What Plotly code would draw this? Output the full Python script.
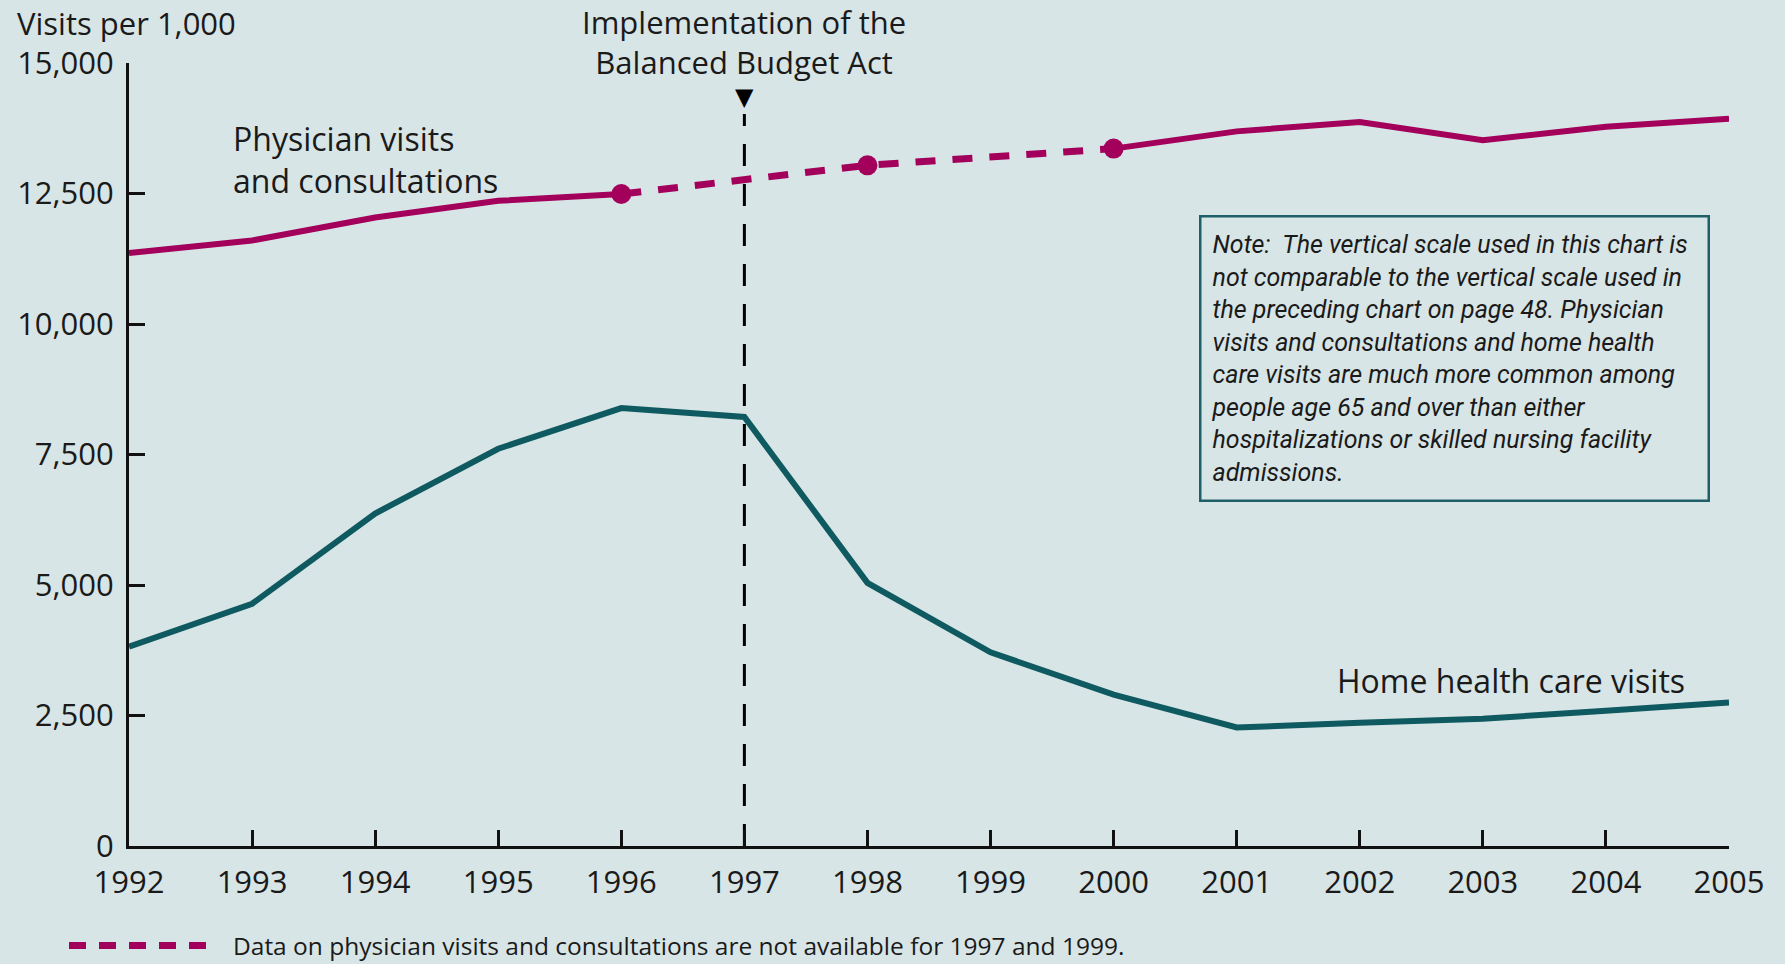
import plotly.graph_objects as go

# ---- data ----
years = [1992, 1993, 1994, 1995, 1996, 1997, 1998, 1999, 2000, 2001, 2002, 2003, 2004, 2005]
home_health = [3820, 4640, 6370, 7610, 8390, 8220, 5040, 3710, 2900, 2270, 2360, 2440, 2590, 2750]

phys_years_early = [1992, 1993, 1994, 1995, 1996]
phys_early = [11360, 11600, 12040, 12360, 12490]
phys_years_gap = [1996, 1998, 2000]
phys_gap = [12490, 13040, 13360]
phys_years_late = [2000, 2001, 2002, 2003, 2004, 2005]
phys_late = [13360, 13690, 13870, 13520, 13780, 13930]

y_ticks = [0, 2500, 5000, 7500, 10000, 12500, 15000]
y_tick_labels = ["0", "2,500", "5,000", "7,500", "10,000", "12,500", "15,000"]
bba_year = 1997

BG = "#d8e5e6"
MAG = "#a3005c"
TEAL = "#0e5a60"
FONT = "Open Sans"
TXT = "#1a1a1a"

fig = go.Figure()
fig.add_trace(go.Scatter(x=years, y=home_health, mode="lines",
                         line=dict(color=TEAL, width=6), showlegend=False, cliponaxis=False))
fig.add_trace(go.Scatter(x=phys_years_early, y=phys_early, mode="lines",
                         line=dict(color=MAG, width=6), showlegend=False, cliponaxis=False))
fig.add_trace(go.Scatter(x=phys_years_late, y=phys_late, mode="lines",
                         line=dict(color=MAG, width=6), showlegend=False, cliponaxis=False))
fig.add_trace(go.Scatter(x=phys_years_gap, y=phys_gap, mode="lines",
                         line=dict(color=MAG, width=7, dash="20px,17px"), showlegend=False, cliponaxis=False))
fig.add_trace(go.Scatter(x=phys_years_gap, y=phys_gap, mode="markers",
                         marker=dict(color=MAG, size=20), showlegend=False, cliponaxis=False))

# vertical dashed line for the Balanced Budget Act
fig.add_shape(type="line", xref="x", yref="paper", x0=bba_year, x1=bba_year, y0=0, y1=0.935,
              line=dict(color="black", width=3, dash="22px,18px"), layer="below")
fig.add_annotation(x=bba_year, xref="x", y=0.957, yref="paper", text="▼", showarrow=False,
                   font=dict(size=24, color="black", family="DejaVu Sans"), yanchor="middle")
fig.add_annotation(x=bba_year, xref="x", y=1.0, yref="paper", yshift=21,
                   text="Implementation of the<br>Balanced Budget Act", showarrow=False,
                   font=dict(size=31, color=TXT, family=FONT), yanchor="middle", align="center")

fig.add_annotation(x=0.0, xref="paper", xshift=-114, y=1.0, yref="paper", yshift=40,
                   text="Visits per 1,000", showarrow=False, xanchor="left", yanchor="middle",
                   font=dict(size=31, color=TXT, family=FONT))

fig.add_annotation(x=1992.83, xref="x", y=13160, yref="y",
                   text="Physician visits<br>and consultations", showarrow=False,
                   xanchor="left", yanchor="middle", align="left",
                   font=dict(size=32, color=TXT, family=FONT))

fig.add_annotation(x=2005, xref="x", xshift=-42, y=3180, yref="y",
                   text="Home health care visits", showarrow=False,
                   xanchor="right", yanchor="middle",
                   font=dict(size=32, color=TXT, family=FONT))

note = ("<i>Note:  The vertical scale used in this chart is<br>"
        "not comparable to the vertical scale used in<br>"
        "the preceding chart on page 48. Physician<br>"
        "visits and consultations and home health<br>"
        "care visits are much more common among<br>"
        "people age 65 and over than either<br>"
        "hospitalizations or skilled nursing facility<br>"
        "admissions.</i>")
fig.add_annotation(x=0.669, xref="paper", y=0.806, yref="paper", text=note, showarrow=False,
                   xanchor="left", yanchor="top", align="left",
                   font=dict(size=25, color=TXT, family="Roboto"),
                   bordercolor="#1f6068", borderwidth=2.5, borderpad=10, bgcolor=BG,
                   width=486, height=262, valign="middle")

# bottom note with dashed line key
fig.add_shape(type="line", xref="paper", yref="paper", x0=-0.0375, x1=0.05, y0=-0.127, y1=-0.127,
              line=dict(color=MAG, width=7, dash="17px,13px"))
fig.add_annotation(x=0.064, xref="paper", y=-0.127, yref="paper",
                   text="Data on physician visits and consultations are not available for 1997 and 1999.",
                   showarrow=False, xanchor="left", yanchor="middle",
                   font=dict(size=24.5, color=TXT, family=FONT))

fig.update_layout(
    width=1785, height=964,
    margin=dict(l=129, r=56, t=63, b=118),
    paper_bgcolor=BG, plot_bgcolor=BG,
    font=dict(family=FONT, color=TXT),
    xaxis=dict(range=[1992, 2005], tickmode="array", tickvals=years,
               ticktext=[str(y) for y in years], ticks="inside", ticklen=16, tickwidth=2.5,
               tickcolor="#111", showline=True, linecolor="#111", linewidth=3,
               showgrid=False, zeroline=False, tickfont=dict(size=31, family=FONT, color=TXT),
               ticklabelstandoff=7),
    yaxis=dict(range=[0, 15000], tickmode="array", tickvals=y_ticks, ticktext=y_tick_labels,
               ticks="inside", ticklen=16, tickwidth=2.5, tickcolor="#111",
               showline=True, linecolor="#111", linewidth=3, showgrid=False, zeroline=False,
               tickfont=dict(size=31, family=FONT, color=TXT), ticklabelstandoff=6),
)

fig.write_html("out.html")
